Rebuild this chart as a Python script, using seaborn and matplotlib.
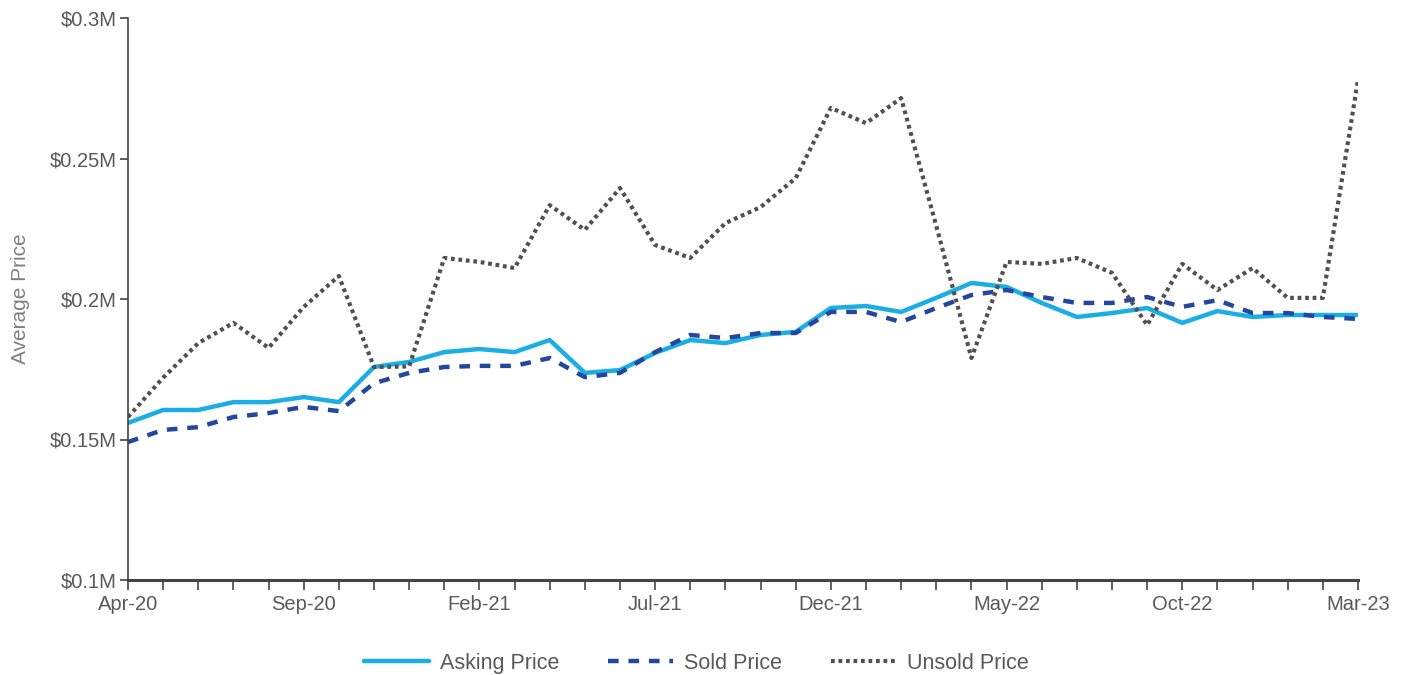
import pandas as pd
import seaborn as sns
import matplotlib.pyplot as plt
from matplotlib.ticker import FuncFormatter

months = pd.date_range('2020-04-01', '2023-03-01', freq='MS')
month_labels = [d.strftime('%b-%y') for d in months]

asking = [0.1559, 0.1605, 0.1605, 0.1633, 0.1633, 0.1651, 0.1633, 0.1758, 0.1776, 0.1811,
          0.1822, 0.1811, 0.1854, 0.1737, 0.1747, 0.1808, 0.1854, 0.1843, 0.1872, 0.1883,
          0.1968, 0.1975, 0.1954, 0.2004, 0.2057, 0.2043, 0.1986, 0.1936, 0.1950, 0.1968,
          0.1915, 0.1957, 0.1936, 0.1943, 0.1943, 0.1943]
sold = [0.1491, 0.1534, 0.1544, 0.1580, 0.1594, 0.1616, 0.1601, 0.1700, 0.1737, 0.1758,
        0.1762, 0.1762, 0.1790, 0.1722, 0.1737, 0.1811, 0.1872, 0.1861, 0.1879, 0.1879,
        0.1954, 0.1954, 0.1918, 0.1968, 0.2014, 0.2032, 0.2007, 0.1986, 0.1986, 0.2007,
        0.1972, 0.1996, 0.1950, 0.1950, 0.1936, 0.1929]
unsold = [0.1580, 0.1720, 0.1843, 0.1915, 0.1826, 0.1972, 0.2082, 0.1758, 0.1760, 0.2146,
          0.2132, 0.2110, 0.2334, 0.2246, 0.2395, 0.2192, 0.2146, 0.2270, 0.2327, 0.2430,
          0.2680, 0.2626, 0.2715, 0.2260, 0.1790, 0.2132, 0.2125, 0.2146, 0.2093, 0.1907,
          0.2125, 0.2032, 0.2110, 0.2004, 0.2004, 0.2780]

sns.set_style('white')
plt.rcParams['font.family'] = ['Liberation Sans', 'DejaVu Sans']

grey = '#595959'
fig = plt.figure(figsize=(14.1, 6.75), dpi=100)
ax = fig.add_axes([128 / 1410, 1 - 580 / 675, 1230 / 1410, 562 / 675])

x = list(range(len(months)))
sns.lineplot(x=x, y=asking, ax=ax, color='#1aaee5', lw=3.2, label='Asking Price')
sns.lineplot(x=x, y=sold, ax=ax, color='#24479e', lw=3.2, label='Sold Price',
             dashes=False, linestyle=(0, (2.4, 2.2)))
sns.lineplot(x=x, y=unsold, ax=ax, color='#505050', lw=3.0, label='Unsold Price',
             linestyle=(0, (0.9, 0.9)))

ax.set_xlim(0, len(months) - 1)
ax.set_ylim(0.1, 0.3)
ax.set_yticks([0.1, 0.15, 0.2, 0.25, 0.3])
ax.yaxis.set_major_formatter(FuncFormatter(lambda v, p: f'${v:g}M'))
ax.set_xticks(x[::5])
ax.set_xticklabels(month_labels[::5])
ax.set_xticks(x, minor=True)

for s in ['top', 'right']:
    ax.spines[s].set_visible(False)
for s in ['left', 'bottom']:
    ax.spines[s].set_color('#444444')
    ax.spines[s].set_linewidth(1.2)
ax.spines['bottom'].set_linewidth(2.2)

ax.tick_params(axis='both', which='both', direction='out', colors='#444444',
               labelcolor=grey, labelsize=14.5, bottom=True, left=True)
ax.tick_params(axis='x', which='both', length=7, width=1.2, pad=4)
ax.tick_params(axis='y', length=6, width=1.2, pad=2)
ax.set_ylabel('Average Price', color='#808080', fontsize=15, labelpad=14)
ax.set_xlabel('')

leg = ax.legend(loc='upper center', bbox_to_anchor=(0.462, -0.095), ncol=3, frameon=False,
                fontsize=15.5, handlelength=3.0, columnspacing=2.3, handletextpad=0.5)
for t in leg.get_texts():
    t.set_color(grey)

fig.savefig('out.png', dpi=100)
